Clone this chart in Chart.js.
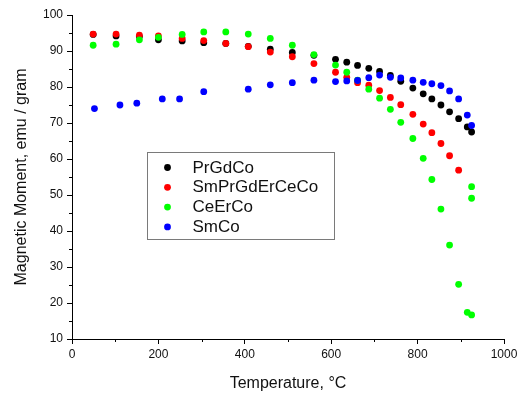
<!DOCTYPE html>
<html><head><meta charset="utf-8">
<script src="https://cdn.jsdelivr.net/npm/chart.js@4.4.1/dist/chart.umd.min.js"></script>
<style>html,body{margin:0;padding:0;background:#fff;}#wrap{width:531px;height:393px;position:relative;}</style>
</head><body><div id="wrap"><canvas id="c" width="531" height="393"></canvas></div>
<script>
// ---- data ----
const seriesNames = ['PrGdCo', 'SmPrGdErCeCo', 'CeErCo', 'SmCo'];
const seriesColors = ['#000000', '#ff0000', '#00ff00', '#0000ff'];

const prgdcoT = [49, 102, 156, 200, 255, 305, 356, 408, 459, 510, 560, 610, 636, 661, 687, 712, 737, 761, 789, 813, 833, 854, 874, 895, 915, 925];
const prgdcoM = [94.6, 94.2, 94.0, 93.1, 92.8, 92.3, 92.1, 91.3, 90.5, 89.6, 88.8, 87.7, 86.9, 86.0, 85.2, 84.3, 83.2, 81.6, 79.7, 78.1, 76.7, 75.0, 73.1, 71.2, 68.9, 67.5];

const smprT = [49, 102, 156, 200, 255, 305, 356, 408, 459, 510, 560, 610, 636, 661, 687, 712, 737, 761, 789, 813, 833, 854, 874, 895];
const smprM = [94.7, 94.7, 94.4, 94.2, 93.5, 92.9, 92.1, 91.2, 89.7, 88.4, 86.5, 84.1, 82.7, 81.2, 80.5, 79.0, 77.1, 75.1, 72.4, 69.7, 67.3, 64.3, 60.9, 56.9];

const ceerT = [49, 102, 156, 200, 255, 305, 356, 408, 459, 510, 560, 610, 636, 661, 687, 712, 737, 761, 789, 813, 833, 854, 874, 895, 915, 925, 925, 925];
const ceerM = [91.6, 91.9, 93.1, 93.8, 94.6, 95.3, 95.3, 94.7, 93.5, 91.6, 89.0, 86.1, 84.1, 81.9, 79.4, 76.9, 73.8, 70.2, 65.7, 60.2, 54.3, 46.1, 36.1, 25.2, 17.4, 16.7, 52.3, 49.1];

const smcoT = [52, 111, 150, 209, 249, 305, 408, 459, 510, 560, 610, 636, 661, 687, 712, 737, 761, 789, 813, 833, 854, 874, 895, 915, 925];
const smcoM = [74.0, 75.0, 75.5, 76.7, 76.7, 78.7, 79.4, 80.6, 81.2, 81.9, 81.5, 81.7, 81.8, 82.6, 83.3, 82.7, 82.5, 81.9, 81.3, 80.9, 80.4, 78.9, 76.7, 72.2, 69.3];

const xMajorTicks = [0, 200, 400, 600, 800, 1000];
const xMinorTicks = [100, 300, 500, 700, 900];
const yMajorTicks = [10, 20, 30, 40, 50, 60, 70, 80, 90, 100];
const yMinorTicks = [15, 25, 35, 45, 55, 65, 75, 85, 95];
const xTitle = 'Temperature, \u00B0C';
const yTitle = 'Magnetic Moment, emu / gram';

const allT = [prgdcoT, smprT, ceerT, smcoT];
const allM = [prgdcoM, smprM, ceerM, smcoM];

const FONT = "'Liberation Sans', Arial, sans-serif";

const datasets = seriesNames.map((name, i) => ({
  label: name,
  data: allT[i].map((t, k) => ({x: t, y: allM[i][k]})),
  backgroundColor: seriesColors[i],
  borderColor: seriesColors[i],
  pointRadius: 3.4,
  pointBorderWidth: 0,
  pointHoverRadius: 3.4,
  showLine: false,
  order: 4 - i
}));

const minorTicks = {
  id: 'minorTicks',
  afterDraw(chart) {
    const ctx = chart.ctx;
    const xs = chart.scales.x, ys = chart.scales.y;
    ctx.save();
    ctx.strokeStyle = '#000';
    ctx.lineWidth = 1;
    ctx.beginPath();
    xMinorTicks.forEach(v => {
      const px = Math.round(xs.getPixelForValue(v)) + 0.5;
      ctx.moveTo(px, xs.top);
      ctx.lineTo(px, xs.top + 3);
    });
    yMinorTicks.forEach(v => {
      const py = Math.round(ys.getPixelForValue(v)) + 0.5;
      ctx.moveTo(ys.right - 3, py);
      ctx.lineTo(ys.right, py);
    });
    ctx.stroke();
    ctx.restore();
  }
};

const boxLegend = {
  id: 'boxLegend',
  afterDraw(chart) {
    const ctx = chart.ctx;
    const ca = chart.chartArea;
    const left = ca.left + 75.5, top = ca.top + 137.5, w = 187, h = 87;
    ctx.save();
    ctx.fillStyle = '#fff';
    ctx.fillRect(left, top, w, h);
    ctx.strokeStyle = '#7a7a7a';
    ctx.lineWidth = 1;
    ctx.strokeRect(left, top, w, h);
    ctx.font = '17px ' + FONT;
    ctx.textBaseline = 'middle';
    ctx.textAlign = 'left';
    chart.data.datasets.forEach((ds, i) => {
      const cy = top + 15 + i * 19.8;
      ctx.fillStyle = ds.backgroundColor;
      ctx.beginPath();
      ctx.arc(left + 20, cy, 3.4, 0, Math.PI * 2);
      ctx.fill();
      ctx.fillStyle = '#111';
      ctx.fillText(ds.label, left + 45, cy + 0.5);
    });
    ctx.restore();
  }
};

new Chart(document.getElementById('c'), {
  type: 'scatter',
  data: {datasets},
  plugins: [minorTicks, boxLegend],
  options: {
    responsive: false,
    animation: false,
    devicePixelRatio: 1,
    layout: {padding: {top: 15, right: 27, left: 0, bottom: 0}},
    plugins: {legend: {display: false}, tooltip: {enabled: false}},
    scales: {
      x: {
        type: 'linear', min: 0, max: 1000,
        afterBuildTicks(s) { s.ticks = xMajorTicks.map(v => ({value: v})); },
        afterFit(s) { s.height = 54; },
        ticks: {font: {family: FONT, size: 12}, color: '#111', padding: 3, maxRotation: 0, callback: v => String(v)},
        grid: {drawOnChartArea: false, drawTicks: true, tickLength: 5, tickColor: '#000', tickWidth: 1},
        border: {color: '#000', width: 1},
        title: {display: true, text: xTitle, font: {family: FONT, size: 16}, color: '#111', padding: {top: 8, bottom: 0}}
      },
      y: {
        type: 'linear', min: 10, max: 100,
        afterBuildTicks(s) { s.ticks = yMajorTicks.map(v => ({value: v})); },
        afterFit(s) { s.width = 72; },
        ticks: {font: {family: FONT, size: 12}, color: '#111', padding: 4, callback: v => String(v)},
        grid: {drawOnChartArea: false, drawTicks: true, tickLength: 5, tickColor: '#000', tickWidth: 1},
        border: {color: '#000', width: 1},
        title: {display: true, text: yTitle, font: {family: FONT, size: 16}, color: '#111', padding: {top: 12, bottom: 4}}
      }
    }
  }
});
</script></body></html>
